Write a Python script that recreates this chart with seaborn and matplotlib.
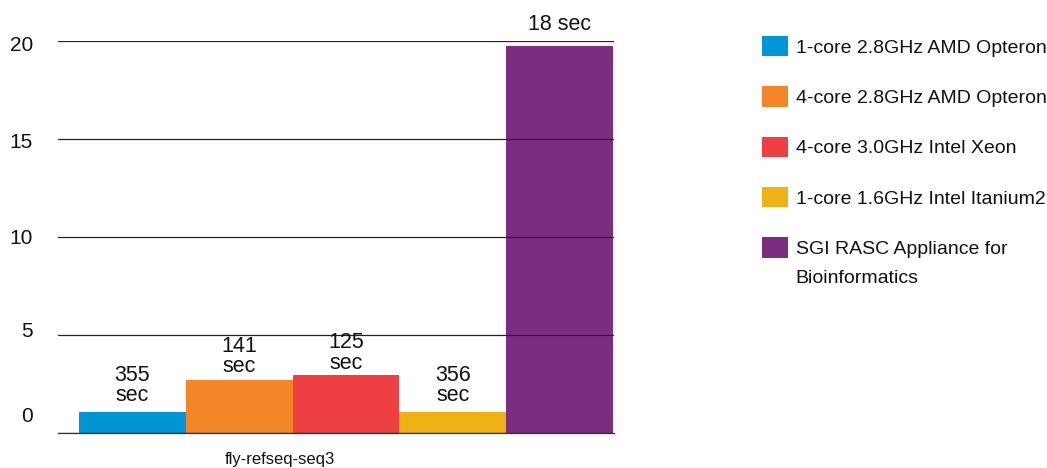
import pandas as pd
import seaborn as sns
import matplotlib.pyplot as plt
import matplotlib.transforms as mtransforms

benchmark = ["fly-refseq-seq3"]
systems = ["1-core 2.8GHz AMD Opteron", "4-core 2.8GHz AMD Opteron",
           "4-core 3.0GHz Intel Xeon", "1-core 1.6GHz Intel Itanium2",
           "SGI RASC Appliance for"]
legend_extra = "Bioinformatics"   # second line of the last legend entry
speedup = [1.07, 2.70, 2.96, 1.07, 19.75]
run_labels = ["355\nsec", "141\nsec", "125\nsec", "356\nsec", "18 sec"]
colors = ["#0096d6", "#f4862a", "#ee4043", "#eeb214", "#7b2d82"]
yticks = [0, 5, 10, 15, 20]

df = pd.DataFrame({"benchmark": benchmark * len(systems),
                   "system": systems, "speedup": speedup})

sns.set_style("white")
plt.rcParams['font.family'] = ['Liberation Sans', 'DejaVu Sans']
plt.rcParams['text.color'] = '#111111'
plt.rcParams['xtick.color'] = '#111111'
plt.rcParams['ytick.color'] = '#111111'

fig = plt.figure(figsize=(10.47, 4.68), dpi=100)
ax = fig.add_axes([0.0554, 0.0748, 0.531, 0.8376])

sns.barplot(data=df, x="benchmark", y="speedup", hue="system",
            palette=colors, width=0.8, saturation=1, linewidth=0,
            edgecolor="none", ax=ax)

ax.set_xlim(-0.4315, 0.4015)
ax.set_ylim(0, 20)
ax.set_yticks(yticks)
ax.set_yticklabels([str(t) for t in yticks])
ax.tick_params(axis='y', length=0, pad=18, labelsize=15)
ax.tick_params(axis='x', length=0, pad=14, labelsize=12)
ax.set_xlabel("")
ax.set_ylabel("")
for s in ["left", "right", "top"]:
    ax.spines[s].set_visible(False)
ax.spines["bottom"].set_color("#333333")
ax.spines["bottom"].set_linewidth(0.9)
ax.yaxis.grid(True, color="#222222", linewidth=0.9)
ax.set_axisbelow(False)

# the original tick labels sit a bit off their lines
offs = [18, 5, 0, -1.5, -3]
for lab, dy in zip(ax.get_yticklabels(), offs):
    lab.set_transform(lab.get_transform() + mtransforms.ScaledTranslation(0, dy / 100, fig.dpi_scale_trans))
xl = ax.get_xticklabels()[0]
xl.set_transform(xl.get_transform() + mtransforms.ScaledTranslation(-0.66, 0, fig.dpi_scale_trans))

pads = [4, 2, 1, 4, 8]
for cont, lab, p in zip(ax.containers, run_labels, pads):
    ax.bar_label(cont, labels=[lab], padding=p, fontsize=15.5, linespacing=0.95)

leg = ax.legend(loc="upper left", bbox_to_anchor=(0.7278, 0.923), bbox_transform=fig.transFigure,
                frameon=False, fontsize=14, handlelength=1.34, handleheight=1.24,
                handletextpad=0.4, labelspacing=1.52, borderaxespad=0, borderpad=0)

fig.canvas.draw()
bb = leg.get_texts()[-1].get_window_extent()
fig.text(bb.x0 / fig.bbox.width, (bb.y0 - 29) / fig.bbox.height, legend_extra,
         fontsize=14, ha="left", va="bottom")

plt.savefig("out.png", dpi=100)
